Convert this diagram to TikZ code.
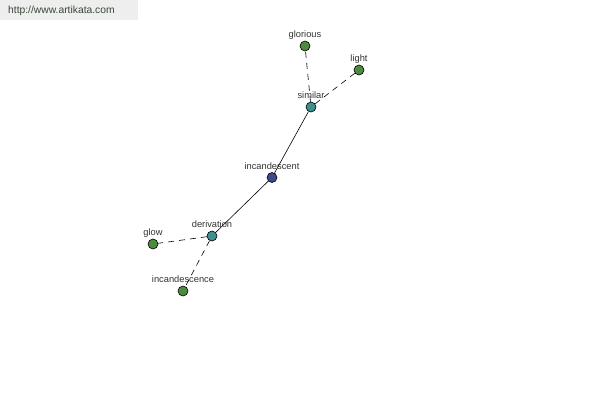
\documentclass[tikz,border=0pt]{standalone}
\usepackage{fontspec}
\setmainfont{Liberation Sans}
\definecolor{leafgreen}{RGB}{76,140,62}
\definecolor{linkteal}{RGB}{62,144,142}
\definecolor{rootblue}{RGB}{64,72,140}
\definecolor{urlgray}{RGB}{238,238,238}
\definecolor{urltext}{RGB}{56,70,56}

\begin{document}
\begin{tikzpicture}[x=1pt, y=-1pt, draw=black]
    \tikzstyle{word}=[circle,draw=black,line width=0.6pt,minimum size=10pt,inner sep=0pt]
    \tikzstyle{every label}=[font=\fontsize{9.3}{10}\selectfont,inner sep=1pt,text height=7pt,text depth=2pt,label distance=0pt,text=black!80]
    \tikzstyle{rel}=[line width=0.6pt]
    \tikzstyle{weak}=[rel,dash pattern=on 6pt off 5pt]

    \useasboundingbox (0,0) rectangle (600,400);

    % Draw the site banner
    \fill[urlgray] (0,0) rectangle (138,20);
    \node[anchor=west,font=\fontsize{10.3}{12}\selectfont,text=urltext,inner sep=0pt] (url) at (8,11) {http://www.artikata.com};

    % Draw the root word
    \node[word,fill=rootblue,label=above:incandescent] (incandescent) at (272,177.5) {};

    % Draw the relation nodes
    \node[word,fill=linkteal,label=above:similar] (similar) at (311,107) {};
    \node[word,fill=linkteal,label=above:derivation] (derivation) at (212,236) {};

    % Draw the leaf words
    \foreach \name / \x / \y in {glorious/305/46, light/359/70, glow/153/244, incandescence/183/291}
        \node[word,fill=leafgreen,label=above:\name] (\name) at (\x,\y) {};

    % Connect the root with the relation nodes
    \foreach \dest in {similar,derivation}
        \path[rel] (incandescent) edge (\dest);

    % Connect the relation nodes with the leaf words
    \foreach \source / \dest in {similar/glorious, similar/light, derivation/glow, derivation/incandescence}
        \path[weak] (\source) edge (\dest);
\end{tikzpicture}
\end{document}
